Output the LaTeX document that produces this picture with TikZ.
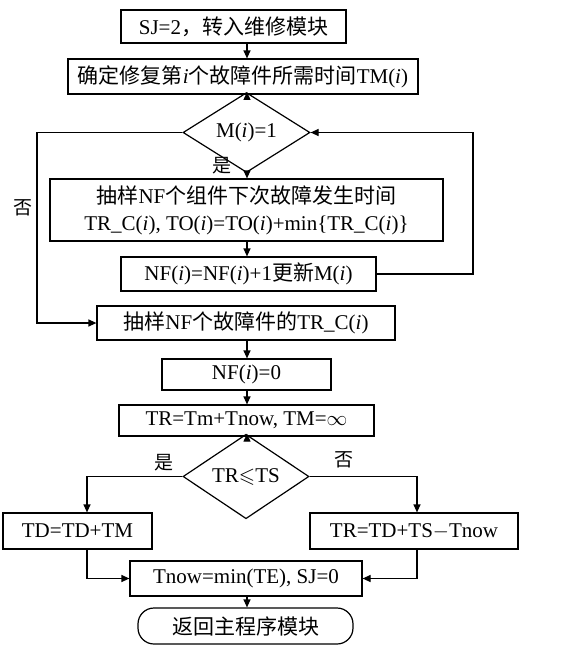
\documentclass[tikz,border=0pt]{standalone}
\usepackage{fontspec}
\usepackage{amssymb}
\setmainfont{Liberation Serif}
\newfontfamily\cjk{Noto Sans CJK SC}
\usetikzlibrary{shapes.geometric,arrows.meta}
\begin{document}
\begin{tikzpicture}[x=1pt,y=-1pt,
 box/.style={draw, line width=1.2pt, inner sep=0pt, align=center},
 dec/.style={draw, diamond, line width=1.2pt, inner sep=0pt},
 arr/.style={line width=1.2pt, -{Triangle[length=8pt,width=7pt]}},
 lab/.style={inner sep=0pt, font=\fontsize{19}{22}\selectfont\cjk},
 font=\fontsize{21}{27}\selectfont]
\useasboundingbox (0,0) rectangle (575,646);
\fill[white] (0,0) rectangle (575,646);
\coordinate (X) at (247,0);
\coordinate (L) at (37,0);
\coordinate (R) at (473,0);
\coordinate (BL) at (87,0);
\coordinate (BR) at (417,0);

\node[box, minimum width=225pt, minimum height=33pt] (b1) at (233.5,26.5) {SJ=2{\cjk ，转入维修模块}};
\node[box, minimum width=350pt, minimum height=35pt] (b2) at (243,76.5) {{\cjk 确定修复第}\textit{i}{\cjk 个故障件所需时间}TM(\textit{i})};
\node[dec, minimum width=127pt, minimum height=47pt] (d1) at (246.5,132.5) {M(\textit{i})=1};
\node[box, minimum width=393pt, minimum height=62pt] (b3) at (246.5,210) {{\cjk 抽样}NF{\cjk 个组件下次故障发生时间}\\TR\_C(\textit{i}), TO(\textit{i})=TO(\textit{i})+min\{TR\_C(\textit{i})\}};
\node[box, minimum width=255pt, minimum height=34pt] (b4) at (248.5,274) {NF(\textit{i})=NF(\textit{i})+1{\cjk 更新}M(\textit{i})};
\node[box, minimum width=298pt, minimum height=34pt] (b5) at (246,323) {{\cjk 抽样}NF{\cjk 个故障件的}TR\_C(\textit{i})};
\node[box, minimum width=169pt, minimum height=31pt] (b6) at (246.5,374.5) {NF(\textit{i})=0};
\node[box, minimum width=255pt, minimum height=31pt] (b7) at (246.5,420.5) {TR=Tm+Tnow, TM=$\infty$};
\node[dec, minimum width=126pt, minimum height=45pt] (d2) at (246,476.5) {TR$\leqslant$TS};
\node[box, minimum width=149pt, minimum height=36pt] (td) at (77.5,531) {TD=TD+TM};
\node[box, minimum width=208pt, minimum height=36pt] (tr) at (414,531) {TR=TD+TS$-$Tnow};
\node[box, minimum width=232pt, minimum height=35pt] (tn) at (246,578.5) {Tnow=min(TE), SJ=0};
\node[box, rounded corners=16pt, minimum width=215pt, minimum height=36pt] (end) at (245.5,626) {\cjk 返回主程序模块};

\node[lab] (y1) at (222,166) {是};
\node[lab] (n1) at (23,208) {否};
\node[lab] (y2) at (164,463) {是};
\node[lab] (n2) at (344,460) {否};

\draw[arr] (b1.south -| X) -- (b2.north -| X);
\draw[arr] (b2.south -| X) -- (d1.north -| X);
\draw[arr] (d1.south -| X) -- (b3.north -| X);
\draw[arr] (b3.south -| X) -- (b4.north -| X);
\draw[arr] (b5.south -| X) -- (b6.north -| X);
\draw[arr] (b6.south -| X) -- (b7.north -| X);
\draw[arr] (b7.south -| X) -- (d2.north -| X);
\draw[arr] (tn.south -| X) -- (end.north -| X);

\draw[arr] (d1.west) -- (d1.west -| L) |- (b5.west);
\draw[arr] (b4.east) -- (b4.east -| R) |- (d1.east);
\draw[arr] (d2.west) -- (d2.west -| BL) -- (td.north -| BL);
\draw[arr] (d2.east) -- (d2.east -| BR) -- (tr.north -| BR);
\draw[arr] (td.south -| BL) |- (tn.west);
\draw[arr] (tr.south -| BR) |- (tn.east);
\end{tikzpicture}
\end{document}
